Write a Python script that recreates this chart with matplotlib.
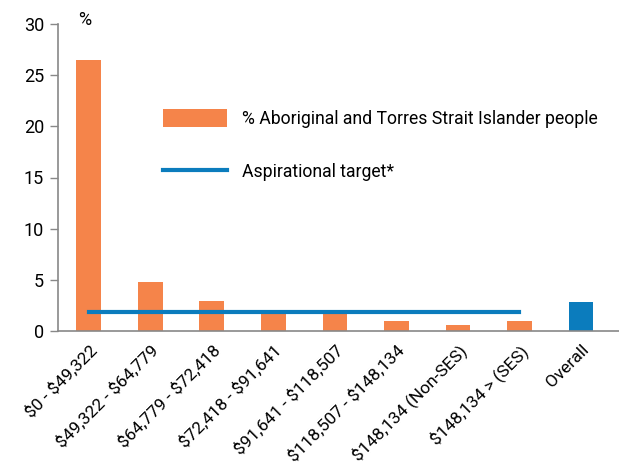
import matplotlib
matplotlib.use("Agg")
import matplotlib.pyplot as plt
from matplotlib.patches import Patch
from matplotlib.lines import Line2D

plt.rcParams['font.family'] = ['Roboto', 'DejaVu Sans']

categories = ["$0 - $49,322", "$49,322 - $64,779", "$64,779 - $72,418",
              "$72,418 - $91,641", "$91,641 - $118,507", "$118,507 - $148,134",
              "$148,134 (Non-SES)", "$148,134 > (SES)", "Overall"]
values = [26.5, 4.8, 2.9, 1.9, 1.75, 1.0, 0.6, 1.0, 2.8]
target = [1.9, 1.9, 1.9, 1.9, 1.9, 1.9, 1.9, 1.9]
yticks = [0, 5, 10, 15, 20, 25, 30]

orange = "#F5844A"
blue = "#0B7CBD"

fig = plt.figure(figsize=(6.19, 4.68), dpi=100)
ax = fig.add_axes([58/619, 1-331/468, 561/619, (331-24)/468])

x = list(range(len(categories)))
colors = [orange]*(len(categories)-1) + [blue]
ax.bar(x, values, width=0.4, color=colors, zorder=2)
ax.plot(x[:len(target)], target, color=blue, linewidth=3, zorder=3)

ax.set_xlim(-0.5, 8.62)
ax.set_ylim(0, 30)
ax.set_yticks(yticks)
ax.set_yticklabels([str(t) for t in yticks], fontsize=13)
ax.set_xticks(x)
ax.set_xticklabels([c.replace('$', r'\$') for c in categories], rotation=45, ha='right',
                   rotation_mode='anchor', fontsize=12.5)
ax.tick_params(axis='x', length=0, pad=8)
ax.tick_params(axis='y', length=6, color='#888888', width=1, pad=4)
for s in ['top', 'right']:
    ax.spines[s].set_visible(False)
for s in ['left', 'bottom']:
    ax.spines[s].set_color('#888888')
    ax.spines[s].set_linewidth(1.2)

fig.text(78/619, 1-20/468, "%", fontsize=13, ha='left', va='center')

handles = [Patch(facecolor=orange, edgecolor='none'),
           Line2D([0], [0], color=blue, linewidth=3)]
labels = ["% Aboriginal and Torres Strait Islander people", "Aspirational target*"]
leg = ax.legend(handles, labels, loc='upper left',
                bbox_to_anchor=((163-58)/561, 1-(109-24)/307),
                frameon=False, fontsize=12.7, handlelength=3.6, handleheight=1.2,
                labelspacing=1.95, handletextpad=0.9, borderaxespad=0, borderpad=0)

fig.savefig("out.png", dpi=100)
